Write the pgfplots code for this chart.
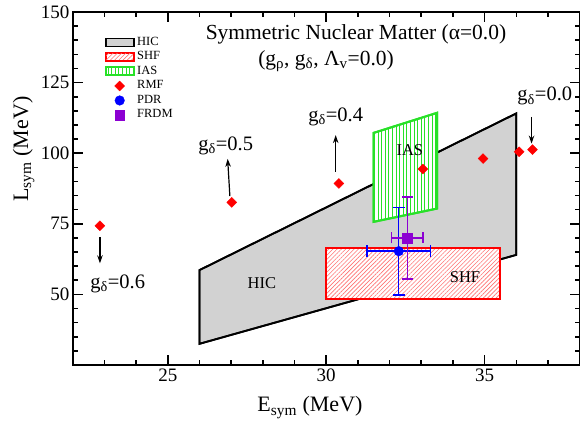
\documentclass[border=0pt]{standalone}
\usepackage{fontspec}
\setmainfont{Liberation Serif}
\usepackage{pgfplots}
\pgfplotsset{compat=1.18}
\usetikzlibrary{patterns.meta,arrows.meta}
\definecolor{iasgreen}{RGB}{40,225,40}
\definecolor{frdm}{RGB}{140,0,210}
\newcommand{\legbox}{\pgfpathrectangle{\pgfpoint{0pt}{-6pt}}{\pgfpoint{30.5pt}{12pt}}\pgfusepath{}}
\pgfplotsset{
  patchlegend/.style={legend image code/.code={\legbox\draw[##1, line width=1pt] (0pt,-4pt) rectangle (28pt,4pt);}},
  marklegend/.style={legend image code/.code={\legbox\draw[mark repeat=2,mark phase=2,##1] plot coordinates {(0pt,0pt) (14pt,0pt) (28pt,0pt)};}},
}
\begin{document}
\begin{tikzpicture}
\begin{axis}[
  scale only axis, width=507pt, height=353pt,
  xmin=22, xmax=38, ymin=25, ymax=150,
  xtick={25,30,35}, ytick={50,75,100,125,150},
  minor xtick={22,23,...,38}, minor ytick={25,30,...,150},
  major tick length=10pt, minor tick length=5pt,
  every tick/.style={black, line width=1.6pt},
  axis line style={line width=2pt},
  tick align=inside,
  /pgf/number format/assume math mode=true,
  tick label style={font=\fontsize{19}{19}\selectfont},
  yticklabel style={inner xsep=3pt},
  xlabel={E\textsubscript{sym} (MeV)},
  ylabel={L\textsubscript{sym} (MeV)},
  xlabel style={at={(axis description cs:0.468,-0.133)}, anchor=base, font=\fontsize{22}{22}\selectfont},
  ylabel style={at={(axis description cs:-0.088,0.612)}, anchor=base, font=\fontsize{22}{22}\selectfont},
  clip=false,
  legend style={at={(axis description cs:0.0637,0.934)}, anchor=north west, draw=none, fill=none, inner sep=0pt,
    font=\fontsize{12.5}{14}\selectfont,
    nodes={inner sep=1pt, text height=9pt, text depth=3pt, anchor=west},
    row sep=0.5pt},
  legend cell align=left,
]
% HIC
\addplot[draw=black, line width=1.8pt, line join=miter, preaction={fill=black!15},
  pattern={Dots[radius=0.45pt,distance=2pt]}, pattern color=black!45, patchlegend]
  coordinates {(26,32.5) (36,64) (36,114.1) (26,58.6)} -- cycle;
\addlegendentry{HIC}
% SHF
\addplot[draw=red, line width=2pt, line join=miter, preaction={fill=white},
  pattern={Lines[angle=45,distance=3pt,line width=0.6pt]}, pattern color=red!55, patchlegend]
  coordinates {(30,48.4) (35.5,48.4) (35.5,66.6) (30,66.6)} -- cycle;
\addlegendentry{SHF}
% IAS
\addplot[draw=iasgreen, line width=2pt, line join=miter, preaction={fill=white},
  pattern={Lines[angle=90,distance=3.6pt,line width=0.8pt]}, pattern color=iasgreen, patchlegend]
  coordinates {(31.5,75.7) (33.5,80.4) (33.5,114.3) (31.5,107.2)} -- cycle;
\addlegendentry{IAS}
% RMF
\addplot[only marks, mark=square*, mark size=3.5pt, color=red, mark options={rotate=45, fill=red, draw=red}, marklegend]
  coordinates {(22.86,74.3) (27.02,82.6) (30.4,89.3) (33.05,94.4) (34.95,98.1) (36.09,100.5) (36.51,101.3)};
\addlegendentry{RMF}
% PDR
\addplot[only marks, mark=*, mark size=4.8pt, color=blue, marklegend,
  error bars/.cd, x dir=both, x explicit, y dir=both, y explicit,
  error bar style={line width=1.4pt, blue},
  error mark=|,
  error mark options={line width=1.4pt, mark size=6pt, blue}]
  coordinates {(32.29,65.3) +- (1.0,15.5)};
\addlegendentry{PDR}
% FRDM
\addplot[only marks, mark=square*, mark size=4.8pt, color=frdm, marklegend,
  error bars/.cd, x dir=both, x explicit, y dir=both, y explicit,
  error bar style={line width=1.4pt, frdm},
  error mark=|,
  error mark options={line width=1.4pt, mark size=5.5pt, frdm}]
  coordinates {(32.56,70.0) +- (0.5,14.5)};
\addlegendentry{FRDM}

% labels
\node[anchor=base, font=\fontsize{21.5}{21.5}\selectfont] at (axis cs:30.94,140.3) {Symmetric Nuclear Matter (α=0.0)};
\node[anchor=base west, inner sep=0pt, font=\fontsize{21.5}{21.5}\selectfont] at (axis cs:27.85,131.2) {(g\textsubscript{ρ}, g\textsubscript{δ}, Λ\textsubscript{v}=0.0)};
\node[font=\fontsize{16.5}{16.5}\selectfont] at (axis cs:27.97,54) {HIC};
\node[font=\fontsize{16.5}{16.5}\selectfont] at (axis cs:34.38,56) {SHF};
\node[font=\fontsize{16.5}{16.5}\selectfont] at (axis cs:32.64,101.1) {IAS};

\node[anchor=base west, inner sep=0pt, font=\fontsize{20.5}{20.5}\selectfont] at (axis cs:22.55,52.2) {g\textsubscript{δ}=0.6};
\node[anchor=base west, inner sep=0pt, font=\fontsize{20.5}{20.5}\selectfont] at (axis cs:25.96,101.1) {g\textsubscript{δ}=0.5};
\node[anchor=base west, inner sep=0pt, font=\fontsize{20.5}{20.5}\selectfont] at (axis cs:29.43,111.1) {g\textsubscript{δ}=0.4};
\node[anchor=base west, inner sep=0pt, font=\fontsize{20.5}{20.5}\selectfont] at (axis cs:36.03,118.5) {g\textsubscript{δ}=0.0};

\draw[-{Stealth[length=8pt,width=5.5pt]}, line width=1.2pt] (axis cs:22.86,70.4) -- (axis cs:22.86,61);
\draw[-{Stealth[length=8pt,width=5.5pt]}, line width=1.2pt] (axis cs:26.96,84.8) -- (axis cs:26.89,98);
\draw[-{Stealth[length=8pt,width=5.5pt]}, line width=1.2pt] (axis cs:30.3,93.4) -- (axis cs:30.3,106.4);
\draw[-{Stealth[length=8pt,width=5.5pt]}, line width=1.2pt] (axis cs:36.48,112.9) -- (axis cs:36.48,103.4);

\coordinate (ll) at (rel axis cs:0,0);
\end{axis}
\pgfresetboundingbox
\path[use as bounding box] (ll) ++(-72.7pt,-60pt) rectangle ++(580pt,425pt);
\end{tikzpicture}
\end{document}
